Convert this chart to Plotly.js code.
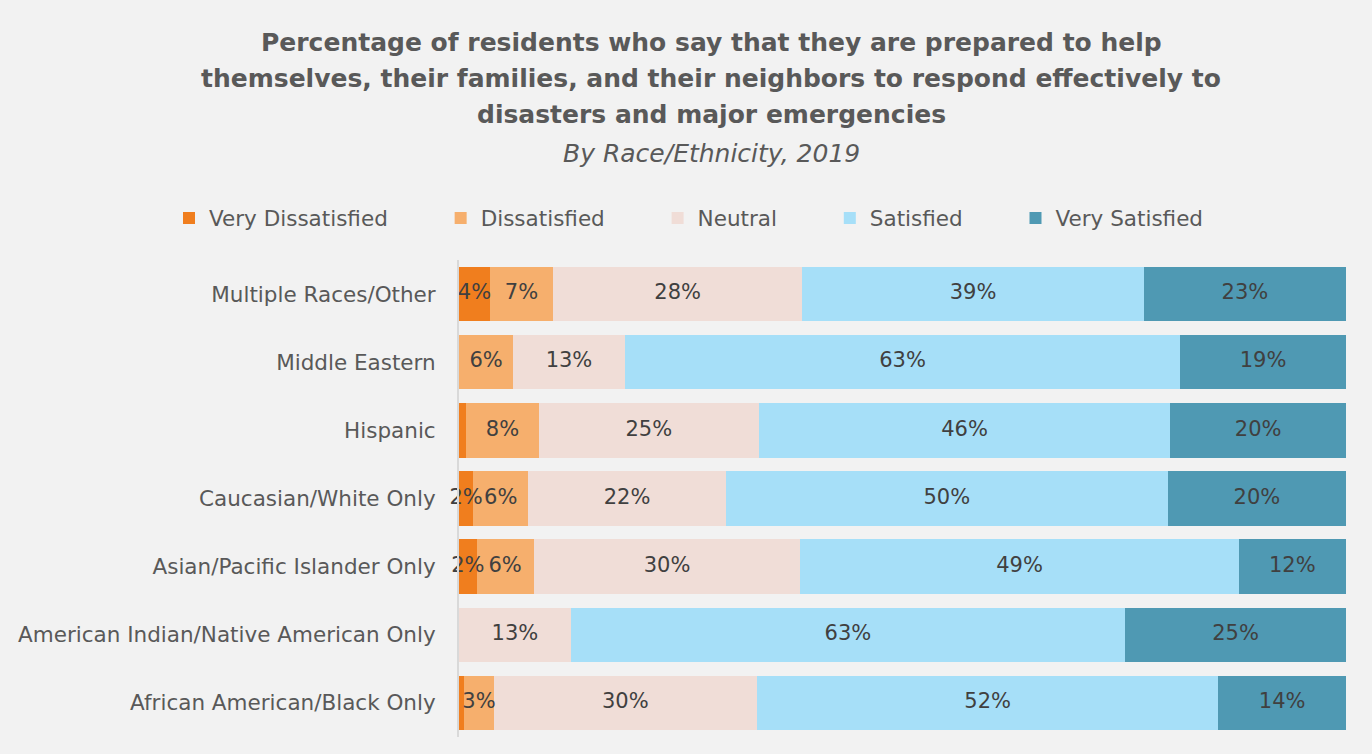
<!DOCTYPE html>
<html>
<head>
<meta charset="utf-8">
<script src="https://cdn.plot.ly/plotly-3.0.1.min.js"></script>
<style>html,body{margin:0;padding:0;background:#f2f2f2;}#chart{width:1372px;height:754px;}</style>
</head>
<body>
<div id="chart"></div>
<script>
const categories = [
  "Multiple Races/Other",
  "Middle Eastern",
  "Hispanic",
  "Caucasian/White Only",
  "Asian/Pacific Islander Only",
  "American Indian/Native American Only",
  "African American/Black Only"
];
const seriesNames = ["Very Dissatisfied", "Dissatisfied", "Neutral", "Satisfied", "Very Satisfied"];
const veryDissatisfied = [3.5, 0, 0.8, 1.6, 2.0, 0, 0.6];
const dissatisfied     = [7.1, 6.1, 8.2, 6.2, 6.4, 0, 3.3];
const neutral          = [28.1, 12.6, 24.8, 22.3, 30.1, 12.6, 29.7];
const satisfied        = [38.5, 62.6, 46.4, 49.8, 49.4, 62.5, 52.0];
const verySatisfied    = [22.8, 18.7, 19.8, 20.1, 12.1, 24.9, 14.4];
const colors = ["#f07e1e", "#f6af6d", "#f0ddd7", "#a6dff8", "#4f99b3"];

const pad = "\u00a0".repeat(7);
const allSeries = [veryDissatisfied, dissatisfied, neutral, satisfied, verySatisfied];

const barTraces = allSeries.map((vals, i) => ({
  type: "bar",
  orientation: "h",
  name: seriesNames[i] + (i < allSeries.length - 1 ? pad : ""),
  y: categories,
  x: vals,
  marker: {color: colors[i], line: {width: 0}},
  hoverinfo: "x"
}));

// data labels drawn above all bars, at the middle of each stacked segment
const cum = categories.map(() => 0);
const labelTraces = allSeries.map((vals) => {
  const mids = vals.map((v, k) => cum[k] + v / 2);
  vals.forEach((v, k) => { cum[k] += v; });
  return {
    type: "scatter",
    mode: "text",
    showlegend: false,
    x: mids,
    y: categories,
    text: vals.map(v => v >= 1 ? Math.round(v) + "%" : ""),
    textposition: "middle center",
    textfont: {family: "DejaVu Sans", size: 21, color: "#404040"},
    cliponaxis: false,
    hoverinfo: "skip"
  };
});

const titleFont = {family: "DejaVu Sans", size: 25, color: "#595959"};
const layout = {
  width: 1372, height: 754,
  paper_bgcolor: "#f2f2f2",
  plot_bgcolor: "#f2f2f2",
  barmode: "stack",
  bargap: 0.2,
  margin: {l: 459, r: 26, t: 260, b: 17, pad: 0},
  showlegend: true,
  legend: {
    orientation: "h",
    xref: "paper", x: (169 - 459) / 887, xanchor: "left",
    yref: "paper", y: (737 - 218) / 477, yanchor: "middle",
    font: {family: "DejaVu Sans", size: 21.5, color: "#595959"},
    bgcolor: "rgba(0,0,0,0)",
    traceorder: "normal"
  },
  xaxis: {range: [0, 100], visible: false, fixedrange: true},
  yaxis: {
    autorange: "reversed",
    showline: true, linecolor: "#d9d9d9", linewidth: 2,
    showgrid: false, zeroline: false,
    ticks: "", ticklabelstandoff: 17,
    tickfont: {family: "DejaVu Sans", size: 21.5, color: "#595959"}
  },
  annotations: [
    {text: "<b>Percentage of residents who say that they are prepared to help</b>", x: 711, y: 42},
    {text: "<b>themselves, their families, and their neighbors to respond effectively to</b>", x: 711, y: 78},
    {text: "<b>disasters and major emergencies</b>", x: 711, y: 114},
    {text: "<i>By Race/Ethnicity, 2019</i>", x: 711, y: 153}
  ].map(a => ({
    text: a.text,
    xref: "paper", yref: "paper",
    x: (a.x - 459) / (1346 - 459),
    y: (754 - 17 - a.y) / (754 - 260 - 17),
    xanchor: "center", yanchor: "middle",
    showarrow: false,
    font: titleFont
  }))
};

Plotly.newPlot("chart", barTraces.concat(labelTraces), layout, {displayModeBar: false, staticPlot: true});
</script>
</body>
</html>
